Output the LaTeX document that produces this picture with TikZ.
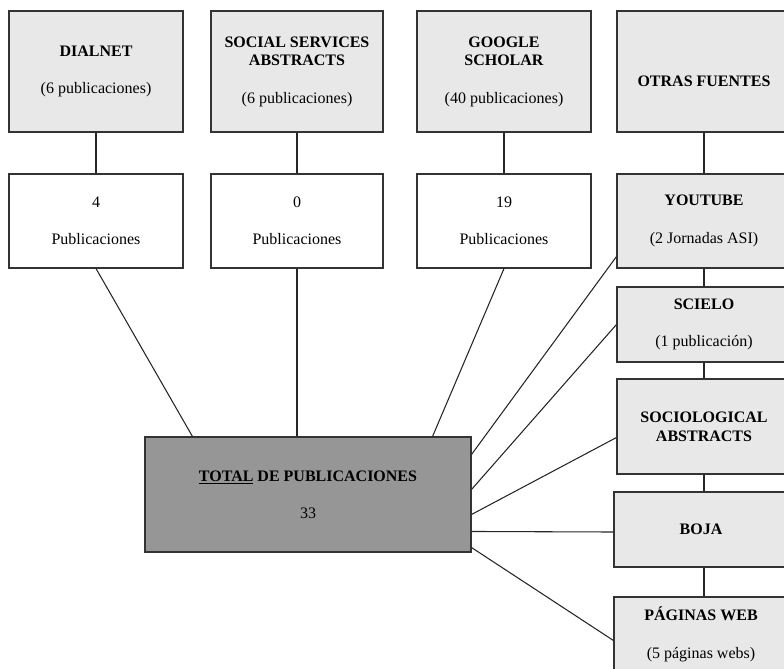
\documentclass[tikz,border=0pt]{standalone}
\usepackage{fontspec}
\setmainfont{Liberation Serif}
\usepackage{xcolor}
\usetikzlibrary{positioning, calc}
\definecolor{boxlight}{HTML}{E8E8E8}
\definecolor{boxdark}{HTML}{969696}

\begin{document}
\begin{tikzpicture}[
    x=0.75pt, y=-0.75pt,
    font=\fontsize{12}{14}\selectfont,
    source/.style={rectangle, draw=black!80, line width=0.8pt, fill=boxlight, inner sep=0pt, minimum width=130.5pt, minimum height=90.75pt, align=center},
    count/.style={source, fill=white, minimum height=70.5pt},
    other/.style={source, minimum height=56.25pt},
    total/.style={source, fill=boxdark, minimum width=244.5pt, minimum height=86.25pt},
    link/.style={draw=black!85, line width=0.8pt}
]
    \clip (0,0) rectangle (784,668);

    % fuentes
    \node[source] (dialnet) at (96,71.5) {\textbf{DIALNET}\\[14pt](6 publicaciones)};
    \node[source, minimum width=129pt] (ssa) at (297,71.5) {\textbf{SOCIAL SERVICES}\\\textbf{ABSTRACTS}\\[14pt](6 publicaciones)};
    \node[source] (google) at (504,71.5) {\textbf{GOOGLE}\\\textbf{SCHOLAR}\\[14pt](40 publicaciones)};
    \node[source, text height=23pt, text depth=0pt] (otras) at (704,71.5) {\textbf{OTRAS FUENTES}};

    % resultados
    \node[count] (dialnetn) at (96,221) {4\\[14pt]Publicaciones};
    \node[count, minimum width=129pt] (ssan) at (297,221) {0\\[14pt]Publicaciones};
    \node[count] (googlen) at (504,221) {19\\[14pt]Publicaciones};

    % otras fuentes
    \node[source, minimum height=70.5pt] (youtube) at (704,221) {\textbf{YOUTUBE}\\[14pt](2 Jornadas ASI)};
    \node[other] (scielo) at (704,324.5) {\textbf{SCIELO}\\[14pt](1 publicación)};
    \node[source, minimum height=71.25pt] (socio) at (704,426.5) {\textbf{SOCIOLOGICAL}\\\textbf{ABSTRACTS}};
    \node[other] (boja) at (701,529.5) {\textbf{BOJA}};
    \node[other] (webs) at (701,634.5) {\textbf{PÁGINAS WEB}\\[14pt](5 páginas webs)};

    \node[total] (total) at (308,494.5) {\textbf{\underline{TOTAL} DE PUBLICACIONES}\\[14pt]33};

    % conexiones verticales
    \draw[link] (dialnet) -- (dialnetn);
    \draw[link] (ssa.south) -- (ssan.north);
    \draw[link] (google.south) -- (googlen.north);
    \draw[link] (otras) -- (youtube);
    \draw[link] (youtube) -- (scielo);
    \draw[link] (scielo) -- (socio);
    \draw[link] (socio.south) -- (socio.south |- boja.north);
    \draw[link] (socio.south |- boja.south) -- (socio.south |- webs.north);

    % conexiones al total
    \draw[link] (dialnetn.south) -- ($(total.north west)+(48,0)$);
    \draw[link] (ssan.south) -- (ssan.south |- total.north);
    \draw[link] (googlen.south) -- ($(total.north east)+(-39,0)$);
    \draw[link] ($(youtube.south west)+(0,-12)$) -- ($(total.north east)+(0,18)$);
    \draw[link] (scielo.west) -- ($(total.north east)+(0,53)$);
    \draw[link] ($(socio.west)+(0,11)$) -- ($(total.north east)+(0,78)$);
    \draw[link] ($(boja.west)+(0,2.5)$) -- ($(total.north east)+(0,95)$);
    \draw[link] ($(webs.west)+(0,6)$) -- ($(total.south east)+(0,-5)$);
\end{tikzpicture}
\end{document}
